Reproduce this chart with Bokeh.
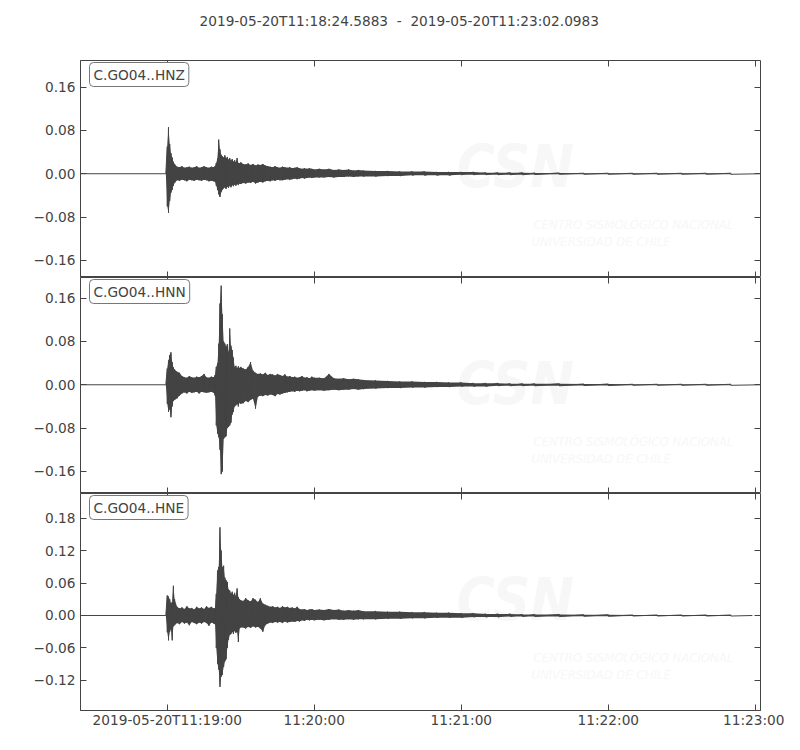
from bokeh.plotting import figure
from bokeh.models import Range1d, FixedTicker, LinearAxis, Label, CustomJSTickFormatter
from bokeh.layouts import column
from bokeh.embed import file_html
from bokeh.resources import INLINE

# ---------------- data ----------------
title_text = "2019-05-20T11:18:24.5883 \u00a0-\u00a0 2019-05-20T11:23:02.0983"
x_start = -35.4117   # seconds relative to 2019-05-20T11:19:00
x_end = 242.0983
x_ticks = [0, 60, 120, 180, 240]
x_tick_labels = ["2019-05-20T11:19:00", "11:20:00", "11:21:00", "11:22:00", "11:23:00"]

channels = ["C.GO04..HNZ", "C.GO04..HNN", "C.GO04..HNE"]

# envelope sample times (s after 11:19:00)
t = [-0.6,
     0, 0.5, 1, 1.5, 2, 2.5, 3,
     4, 5, 6, 7, 8, 9, 10, 11, 12, 13, 14, 15, 16, 17, 18, 19,
     19.5, 20, 20.5, 21, 21.5, 22, 22.5, 23, 23.5, 24, 24.5, 25, 25.5, 26, 26.5, 27, 27.5, 28, 28.5, 29, 29.5, 30,
     31, 32, 33, 34, 35, 36, 37, 38, 39, 40, 41, 42, 43, 44, 45, 46, 47, 48, 49, 50,
     51, 52, 53, 54, 55, 56, 57, 58, 59, 60,
     62, 64, 66, 68, 70, 72, 74, 76, 78, 80,
     85, 90, 95, 100, 105, 110, 115, 120, 125, 130, 135, 140, 145,
     150, 160, 170, 180, 190, 200, 210, 220, 230]

z_hi = [0.0,
        0.050, 0.086, 0.055, 0.038, 0.030, 0.022, 0.018,
        0.013, 0.012, 0.014, 0.011, 0.012, 0.013, 0.011, 0.012, 0.014, 0.011, 0.012, 0.014, 0.012, 0.011, 0.013, 0.012,
        0.014, 0.020, 0.028, 0.063, 0.045, 0.035, 0.032, 0.030, 0.034, 0.028, 0.031, 0.026, 0.029, 0.024, 0.027, 0.022, 0.025, 0.021, 0.029, 0.020, 0.019, 0.021,
        0.018, 0.017, 0.019, 0.016, 0.018, 0.015, 0.017, 0.016, 0.018, 0.015, 0.014, 0.013, 0.012, 0.014, 0.012, 0.011, 0.013, 0.012, 0.011, 0.012,
        0.010, 0.011, 0.012, 0.010, 0.009, 0.010, 0.009, 0.010, 0.009, 0.008,
        0.009, 0.008, 0.009, 0.007, 0.008, 0.007, 0.008, 0.006, 0.007, 0.006,
        0.005, 0.005, 0.004, 0.004, 0.004, 0.003, 0.003, 0.003, 0.003, 0.002, 0.002, 0.002, 0.002,
        0.0015, 0.0015, 0.001, 0.001, 0.001, 0.001, 0.001, 0.001, 0.001]
z_lo = [0.0,
        -0.060, -0.072, -0.050, -0.035, -0.030, -0.022, -0.017,
        -0.012, -0.013, -0.011, -0.012, -0.014, -0.011, -0.012, -0.013, -0.011, -0.012, -0.013, -0.011, -0.012, -0.014, -0.013, -0.014,
        -0.015, -0.022, -0.030, -0.038, -0.043, -0.034, -0.030, -0.027, -0.025, -0.028, -0.024, -0.026, -0.022, -0.025, -0.021, -0.023, -0.020, -0.022, -0.019, -0.021, -0.018, -0.019,
        -0.017, -0.018, -0.016, -0.017, -0.015, -0.018, -0.016, -0.015, -0.016, -0.014, -0.013, -0.014, -0.012, -0.013, -0.011, -0.012, -0.012, -0.011, -0.010, -0.011,
        -0.010, -0.009, -0.010, -0.009, -0.008, -0.009, -0.008, -0.007, -0.008, -0.007,
        -0.007, -0.007, -0.006, -0.007, -0.006, -0.006, -0.005, -0.006, -0.005, -0.005,
        -0.005, -0.004, -0.004, -0.003, -0.003, -0.003, -0.003, -0.002, -0.002, -0.002, -0.002, -0.002, -0.002,
        -0.0015, -0.001, -0.001, -0.001, -0.001, -0.001, -0.001, -0.001, -0.001]

n_hi = [0.0,
        0.030, 0.045, 0.055, 0.060, 0.042, 0.032, 0.028,
        0.024, 0.022, 0.016, 0.014, 0.013, 0.016, 0.014, 0.013, 0.015, 0.014, 0.016, 0.020, 0.014, 0.013, 0.015, 0.014,
        0.018, 0.033, 0.040, 0.076, 0.150, 0.183, 0.130, 0.080, 0.076, 0.070, 0.075, 0.060, 0.104, 0.072, 0.064, 0.050, 0.033, 0.035, 0.030, 0.034, 0.031, 0.033,
        0.030, 0.028, 0.033, 0.042, 0.026, 0.022, 0.020, 0.021, 0.019, 0.022, 0.018, 0.020, 0.019, 0.017, 0.020, 0.018, 0.016, 0.019, 0.015, 0.016,
        0.014, 0.015, 0.013, 0.014, 0.016, 0.013, 0.014, 0.012, 0.015, 0.013,
        0.013, 0.012, 0.020, 0.012, 0.011, 0.012, 0.010, 0.011, 0.010, 0.009,
        0.008, 0.007, 0.006, 0.006, 0.005, 0.005, 0.004, 0.004, 0.003, 0.003, 0.003, 0.002, 0.002,
        0.002, 0.002, 0.0015, 0.0015, 0.001, 0.001, 0.001, 0.001, 0.001]
n_lo = [0.0,
        -0.035, -0.050, -0.045, -0.060, -0.040, -0.030, -0.028,
        -0.025, -0.020, -0.016, -0.014, -0.016, -0.013, -0.015, -0.014, -0.013, -0.016, -0.013, -0.014, -0.015, -0.014, -0.013, -0.015,
        -0.020, -0.075, -0.090, -0.097, -0.120, -0.165, -0.160, -0.100, -0.097, -0.095, -0.080, -0.078, -0.075, -0.070, -0.055, -0.050, -0.040, -0.038, -0.035, -0.040, -0.033, -0.035,
        -0.034, -0.030, -0.032, -0.028, -0.026, -0.044, -0.022, -0.020, -0.021, -0.019, -0.020, -0.018, -0.019, -0.021, -0.017, -0.018, -0.016, -0.015, -0.014, -0.013,
        -0.012, -0.013, -0.011, -0.012, -0.011, -0.010, -0.012, -0.011, -0.010, -0.011,
        -0.010, -0.011, -0.010, -0.009, -0.010, -0.009, -0.009, -0.008, -0.009, -0.008,
        -0.007, -0.006, -0.006, -0.005, -0.005, -0.004, -0.004, -0.003, -0.003, -0.003, -0.002, -0.002, -0.002,
        -0.002, -0.002, -0.0015, -0.0015, -0.001, -0.001, -0.001, -0.001, -0.001]

e_hi = [0.0,
        0.037, 0.035, 0.030, 0.022, 0.025, 0.055, 0.030,
        0.016, 0.013, 0.015, 0.012, 0.017, 0.013, 0.014, 0.011, 0.016, 0.013, 0.015, 0.012, 0.017, 0.014, 0.016, 0.013,
        0.014, 0.040, 0.083, 0.090, 0.163, 0.120, 0.089, 0.092, 0.070, 0.065, 0.062, 0.048, 0.046, 0.040, 0.044, 0.038, 0.042, 0.036, 0.050, 0.034, 0.030, 0.028,
        0.027, 0.032, 0.028, 0.026, 0.032, 0.029, 0.025, 0.032, 0.022, 0.020, 0.018, 0.016, 0.017, 0.015, 0.016, 0.014, 0.017, 0.015, 0.016, 0.014,
        0.015, 0.013, 0.016, 0.012, 0.011, 0.012, 0.010, 0.011, 0.012, 0.010,
        0.011, 0.010, 0.012, 0.010, 0.011, 0.009, 0.010, 0.009, 0.010, 0.008,
        0.008, 0.007, 0.007, 0.006, 0.006, 0.005, 0.005, 0.004, 0.004, 0.003, 0.003, 0.003, 0.002,
        0.002, 0.002, 0.0015, 0.0015, 0.001, 0.001, 0.001, 0.001, 0.001]
e_lo = [0.0,
        -0.031, -0.046, -0.030, -0.025, -0.046, -0.020, -0.018,
        -0.014, -0.016, -0.012, -0.015, -0.013, -0.018, -0.012, -0.014, -0.016, -0.013, -0.015, -0.012, -0.014, -0.019, -0.013, -0.015,
        -0.016, -0.060, -0.089, -0.100, -0.132, -0.113, -0.110, -0.095, -0.085, -0.081, -0.060, -0.045, -0.036, -0.034, -0.030, -0.034, -0.028, -0.032, -0.030, -0.049, -0.024, -0.022,
        -0.022, -0.024, -0.021, -0.023, -0.020, -0.022, -0.021, -0.024, -0.030, -0.018, -0.015, -0.013, -0.014, -0.012, -0.013, -0.012, -0.014, -0.011, -0.013, -0.012,
        -0.011, -0.012, -0.010, -0.011, -0.009, -0.010, -0.008, -0.009, -0.008, -0.009,
        -0.008, -0.009, -0.008, -0.007, -0.008, -0.008, -0.007, -0.008, -0.007, -0.007,
        -0.007, -0.006, -0.006, -0.005, -0.005, -0.004, -0.004, -0.004, -0.003, -0.003, -0.003, -0.002, -0.002,
        -0.002, -0.002, -0.0015, -0.0015, -0.001, -0.001, -0.001, -0.001, -0.001]

trace_end = [242.09, 242.09, 238.8]

y_limits = [(-0.1915, 0.209), (-0.2007, 0.198), (-0.1756, 0.2255)]
y_ticks = [[-0.16, -0.08, 0.0, 0.08, 0.16],
           [-0.16, -0.08, 0.0, 0.08, 0.16],
           [-0.12, -0.06, 0.0, 0.06, 0.12, 0.18]]
y_tick_labels = [["\u22120.16", "\u22120.08", "0.00", "0.08", "0.16"],
                 ["\u22120.16", "\u22120.08", "0.00", "0.08", "0.16"],
                 ["\u22120.12", "\u22120.06", "0.00", "0.06", "0.12", "0.18"]]

watermark_big = "CSN"
watermark_line1 = "CENTRO SISMOL\u00d3GICO NACIONAL"
watermark_line2 = "UNIVERSIDAD DE CHILE"

traces = [(z_hi, z_lo), (n_hi, n_lo), (e_hi, e_lo)]
for hi, lo in traces:
    assert len(hi) == len(t) and len(lo) == len(t), (len(hi), len(lo), len(t))

# ---------------- style ----------------
FONT = "DejaVu Sans"
FS = "13.7px"
TXT = "#444444"
FRAME = "#444444"
TRACE = "#444444"
WM = "#f7f7f7"

frame_heights = [217, 216, 217]
border_bottom = [0, 0, 30]

xr = Range1d(x_start, x_end)


def label_formatter(tick_vals, tick_txt):
    return CustomJSTickFormatter(args=dict(tv=tick_vals, tl=tick_txt), code="""
        for (let i = 0; i < tv.length; i++) {
            if (Math.abs(tv[i] - tick) < 1e-9) { return tl[i]; }
        }
        return '';
    """)


def tick_only_axis(tick_vals):
    ax = LinearAxis(ticker=FixedTicker(ticks=[], minor_ticks=tick_vals))
    ax.minor_tick_in = 6
    ax.minor_tick_out = 0
    ax.minor_tick_line_color = FRAME
    ax.major_tick_line_color = None
    ax.major_label_standoff = 0
    ax.axis_line_color = None
    return ax


# header strip holding the figure title (60px above the first panel)
head = figure(frame_width=680, frame_height=60, x_range=xr, y_range=Range1d(0, 1),
              output_backend="svg", toolbar_location=None,
              x_axis_type=None, y_axis_type=None,
              min_border_left=80, min_border_right=24, min_border_top=0, min_border_bottom=0)
head.xgrid.visible = False
head.ygrid.visible = False
head.outline_line_color = None
head.add_layout(Label(x=119, y=40, x_units="screen", y_units="screen",
                      text=title_text, text_font=FONT, text_font_size=FS,
                      text_color=TXT, text_align="left", text_baseline="middle"))

panels = [head]
for i in range(3):
    fh = frame_heights[i]
    ylo, yhi = y_limits[i]
    p = figure(frame_width=680, frame_height=fh, x_range=xr, y_range=Range1d(ylo, yhi),
               output_backend="svg", toolbar_location=None,
               x_axis_type=None, y_axis_type=None,
               min_border_left=80, min_border_right=24,
               min_border_top=0, min_border_bottom=border_bottom[i])
    p.xgrid.visible = False
    p.ygrid.visible = False
    p.outline_line_color = FRAME
    p.outline_line_width = 1
    p.background_fill_color = "white"
    p.border_fill_color = "white"

    # faint watermark
    for txt, sx, sy, size, style in [(watermark_big, 376, fh - 72, "58px", "bold italic"),
                                     (watermark_line1, 453, fh - 156, "13px", "italic"),
                                     (watermark_line2, 451, fh - 173, "13px", "italic")]:
        p.add_layout(Label(x=sx, y=sy, x_units="screen", y_units="screen", text=txt,
                           text_font="DejaVu Sans Condensed, DejaVu Sans, sans-serif",
                           text_font_size=size, text_font_style=style, text_color=WM,
                           text_baseline="top", text_align="left", level="underlay"))

    hi, lo = traces[i]
    xs = [x_start]
    ys = [0.0]
    for tt, h, l in zip(t, hi, lo):
        xs += [tt, tt]
        ys += [h, l]
    xs.append(trace_end[i])
    ys.append(0.0)
    p.varea(x=t, y1=lo, y2=hi, fill_color=TRACE)
    p.line(xs, ys, line_color=TRACE, line_width=1)

    # left axis with labels
    yl = LinearAxis(ticker=FixedTicker(ticks=y_ticks[i], minor_ticks=[]),
                    formatter=label_formatter(y_ticks[i], y_tick_labels[i]))
    yl.major_tick_in = 6
    yl.major_tick_out = 0
    yl.major_tick_line_color = FRAME
    yl.axis_line_color = FRAME
    yl.major_label_text_font = FONT
    yl.major_label_text_font_size = FS
    yl.major_label_text_color = TXT
    yl.major_label_standoff = 5
    p.add_layout(yl, "left")
    p.add_layout(tick_only_axis(y_ticks[i]), "right")
    p.add_layout(tick_only_axis(x_ticks), "above")

    if i == 2:
        xa = LinearAxis(ticker=FixedTicker(ticks=x_ticks, minor_ticks=[]),
                        formatter=label_formatter(x_ticks, x_tick_labels))
        xa.major_tick_in = 6
        xa.major_tick_out = 0
        xa.major_tick_line_color = FRAME
        xa.axis_line_color = FRAME
        xa.major_label_text_font = FONT
        xa.major_label_text_font_size = FS
        xa.major_label_text_color = TXT
        xa.major_label_standoff = 1
        p.add_layout(xa, "below")
    else:
        p.add_layout(tick_only_axis(x_ticks), "below")

    p.add_layout(Label(x=9, y=fh - 2, x_units="screen", y_units="screen", text=channels[i],
                       text_font=FONT, text_font_size=FS, text_color=TXT,
                       text_baseline="top", text_align="left", padding=4, border_radius=4,
                       background_fill_color="white", border_line_color="#777777",
                       border_line_width=1))
    panels.append(p)

layout = column(*panels, spacing=0)
open("out.html", "w").write(file_html(layout, INLINE))
